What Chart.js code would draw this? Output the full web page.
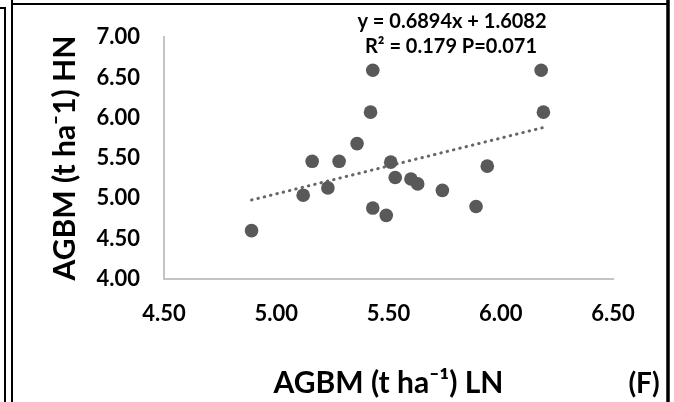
<!DOCTYPE html>
<html>
<head>
<meta charset="utf-8">
<script src="https://cdn.jsdelivr.net/npm/chart.js@4/dist/chart.umd.min.js"></script>
<style>
  html, body { margin: 0; padding: 0; background: #ffffff; }
  #wrap { width: 674px; height: 402px; position: relative; }
</style>
</head>
<body>
<div id="wrap"><canvas id="c" width="674" height="402"></canvas></div>
<script>
// ---- data ----
const xValues = [4.89, 5.12, 5.16, 5.23, 5.28, 5.36, 5.43, 5.42, 5.43, 5.49, 5.51, 5.53, 5.60, 5.63, 5.74, 5.89, 5.94, 6.18, 6.19];
const yValues = [4.60, 5.04, 5.46, 5.13, 5.46, 5.68, 6.59, 6.07, 4.88, 4.79, 5.45, 5.26, 5.24, 5.18, 5.10, 4.90, 5.40, 6.59, 6.07];
const trendX = [4.89, 6.19];
const trendY = [4.98, 5.88];
const xTicks = ["4.50", "5.00", "5.50", "6.00", "6.50"];
const yTicks = ["4.00", "4.50", "5.00", "5.50", "6.00", "6.50", "7.00"];
const xTitle = "AGBM (t ha\u207B\u00B9) LN";
const yTitle = "AGBM (t ha\u207B1) HN";
const equationText = "y = 0.6894x + 1.6082";
const statsText = "R\u00B2 = 0.179 P=0.071";
const panelLabel = "(F)";

const pts = xValues.map((x, i) => ({ x: x, y: yValues[i] }));
const trend = trendX.map((x, i) => ({ x: x, y: trendY[i] }));

const FONT = "Lato";

const decor = {
  id: 'decor',
  afterDraw(chart) {
    const ctx = chart.ctx;
    ctx.save();
    ctx.strokeStyle = '#000';
    ctx.lineWidth = 2;
    ctx.beginPath();
    ctx.moveTo(0, 8); ctx.lineTo(5, 8); ctx.lineTo(5, 402);
    ctx.moveTo(12, 0); ctx.lineTo(12, 402);
    ctx.moveTo(12, 4); ctx.lineTo(668, 4);
    ctx.stroke();
    ctx.lineWidth = 3.5;
    ctx.beginPath();
    ctx.moveTo(668, 0); ctx.lineTo(668, 402);
    ctx.stroke();
    // regression annotation
    ctx.fillStyle = '#000';
    ctx.textAlign = 'center';
    ctx.textBaseline = 'middle';
    ctx.font = "bold 20px " + FONT;
    ctx.fillText(equationText, 452, 22);
    ctx.fillText(statsText, 451, 47);
    // panel label
    ctx.font = "bold 28px " + FONT;
    ctx.fillText(panelLabel, 644, 384);
    ctx.restore();
  }
};

new Chart(document.getElementById('c'), {
  type: 'scatter',
  data: {
    datasets: [
      {
        label: 'AGBM',
        data: pts,
        backgroundColor: '#595959',
        borderWidth: 0,
        pointRadius: 6.8,
        pointHoverRadius: 6.8,
        order: 1
      },
      {
        label: 'Linear',
        type: 'line',
        data: trend,
        borderColor: '#666666',
        borderWidth: 3,
        borderDash: [0.5, 6],
        borderCapStyle: 'round',
        pointRadius: 0,
        fill: false,
        order: 2
      }
    ]
  },
  options: {
    responsive: false,
    animation: false,
    events: [],
    layout: { padding: { top: 34, right: 61, left: 0, bottom: 0 } },
    plugins: { legend: { display: false }, tooltip: { enabled: false } },
    scales: {
      x: {
        type: 'linear',
        min: 4.5, max: 6.5,
        afterFit(s) { s.height = 123; },
        afterBuildTicks(s) { s.ticks = xTicks.map(v => ({ value: parseFloat(v) })); },
        ticks: {
          callback: (v) => xTicks.find(t => parseFloat(t) === v),
          color: '#000',
          font: { family: FONT, weight: 'bold', size: 22 },
          padding: 22,
          maxRotation: 0
        },
        grid: { display: false, drawTicks: false },
        border: { display: true, color: '#c4c4c4', width: 2 },
        title: {
          display: true, text: xTitle, color: '#000',
          font: { family: FONT, weight: 'bold', size: 30 },
          padding: { top: 0, bottom: 1 }
        }
      },
      y: {
        type: 'linear',
        min: 4, max: 7,
        afterFit(s) { s.width = 164; },
        afterBuildTicks(s) { s.ticks = yTicks.map(v => ({ value: parseFloat(v) })); },
        ticks: {
          callback: (v) => yTicks.find(t => parseFloat(t) === v),
          color: '#000',
          font: { family: FONT, weight: 'bold', size: 22 },
          padding: 24
        },
        grid: { display: false, drawTicks: false },
        border: { display: true, color: '#c4c4c4', width: 2 },
        title: {
          display: true, text: yTitle, color: '#000',
          font: { family: FONT, weight: 'bold', size: 30 },
          padding: { top: 47, bottom: 0 }
        }
      }
    }
  },
  plugins: [decor]
});
</script>
</body>
</html>
